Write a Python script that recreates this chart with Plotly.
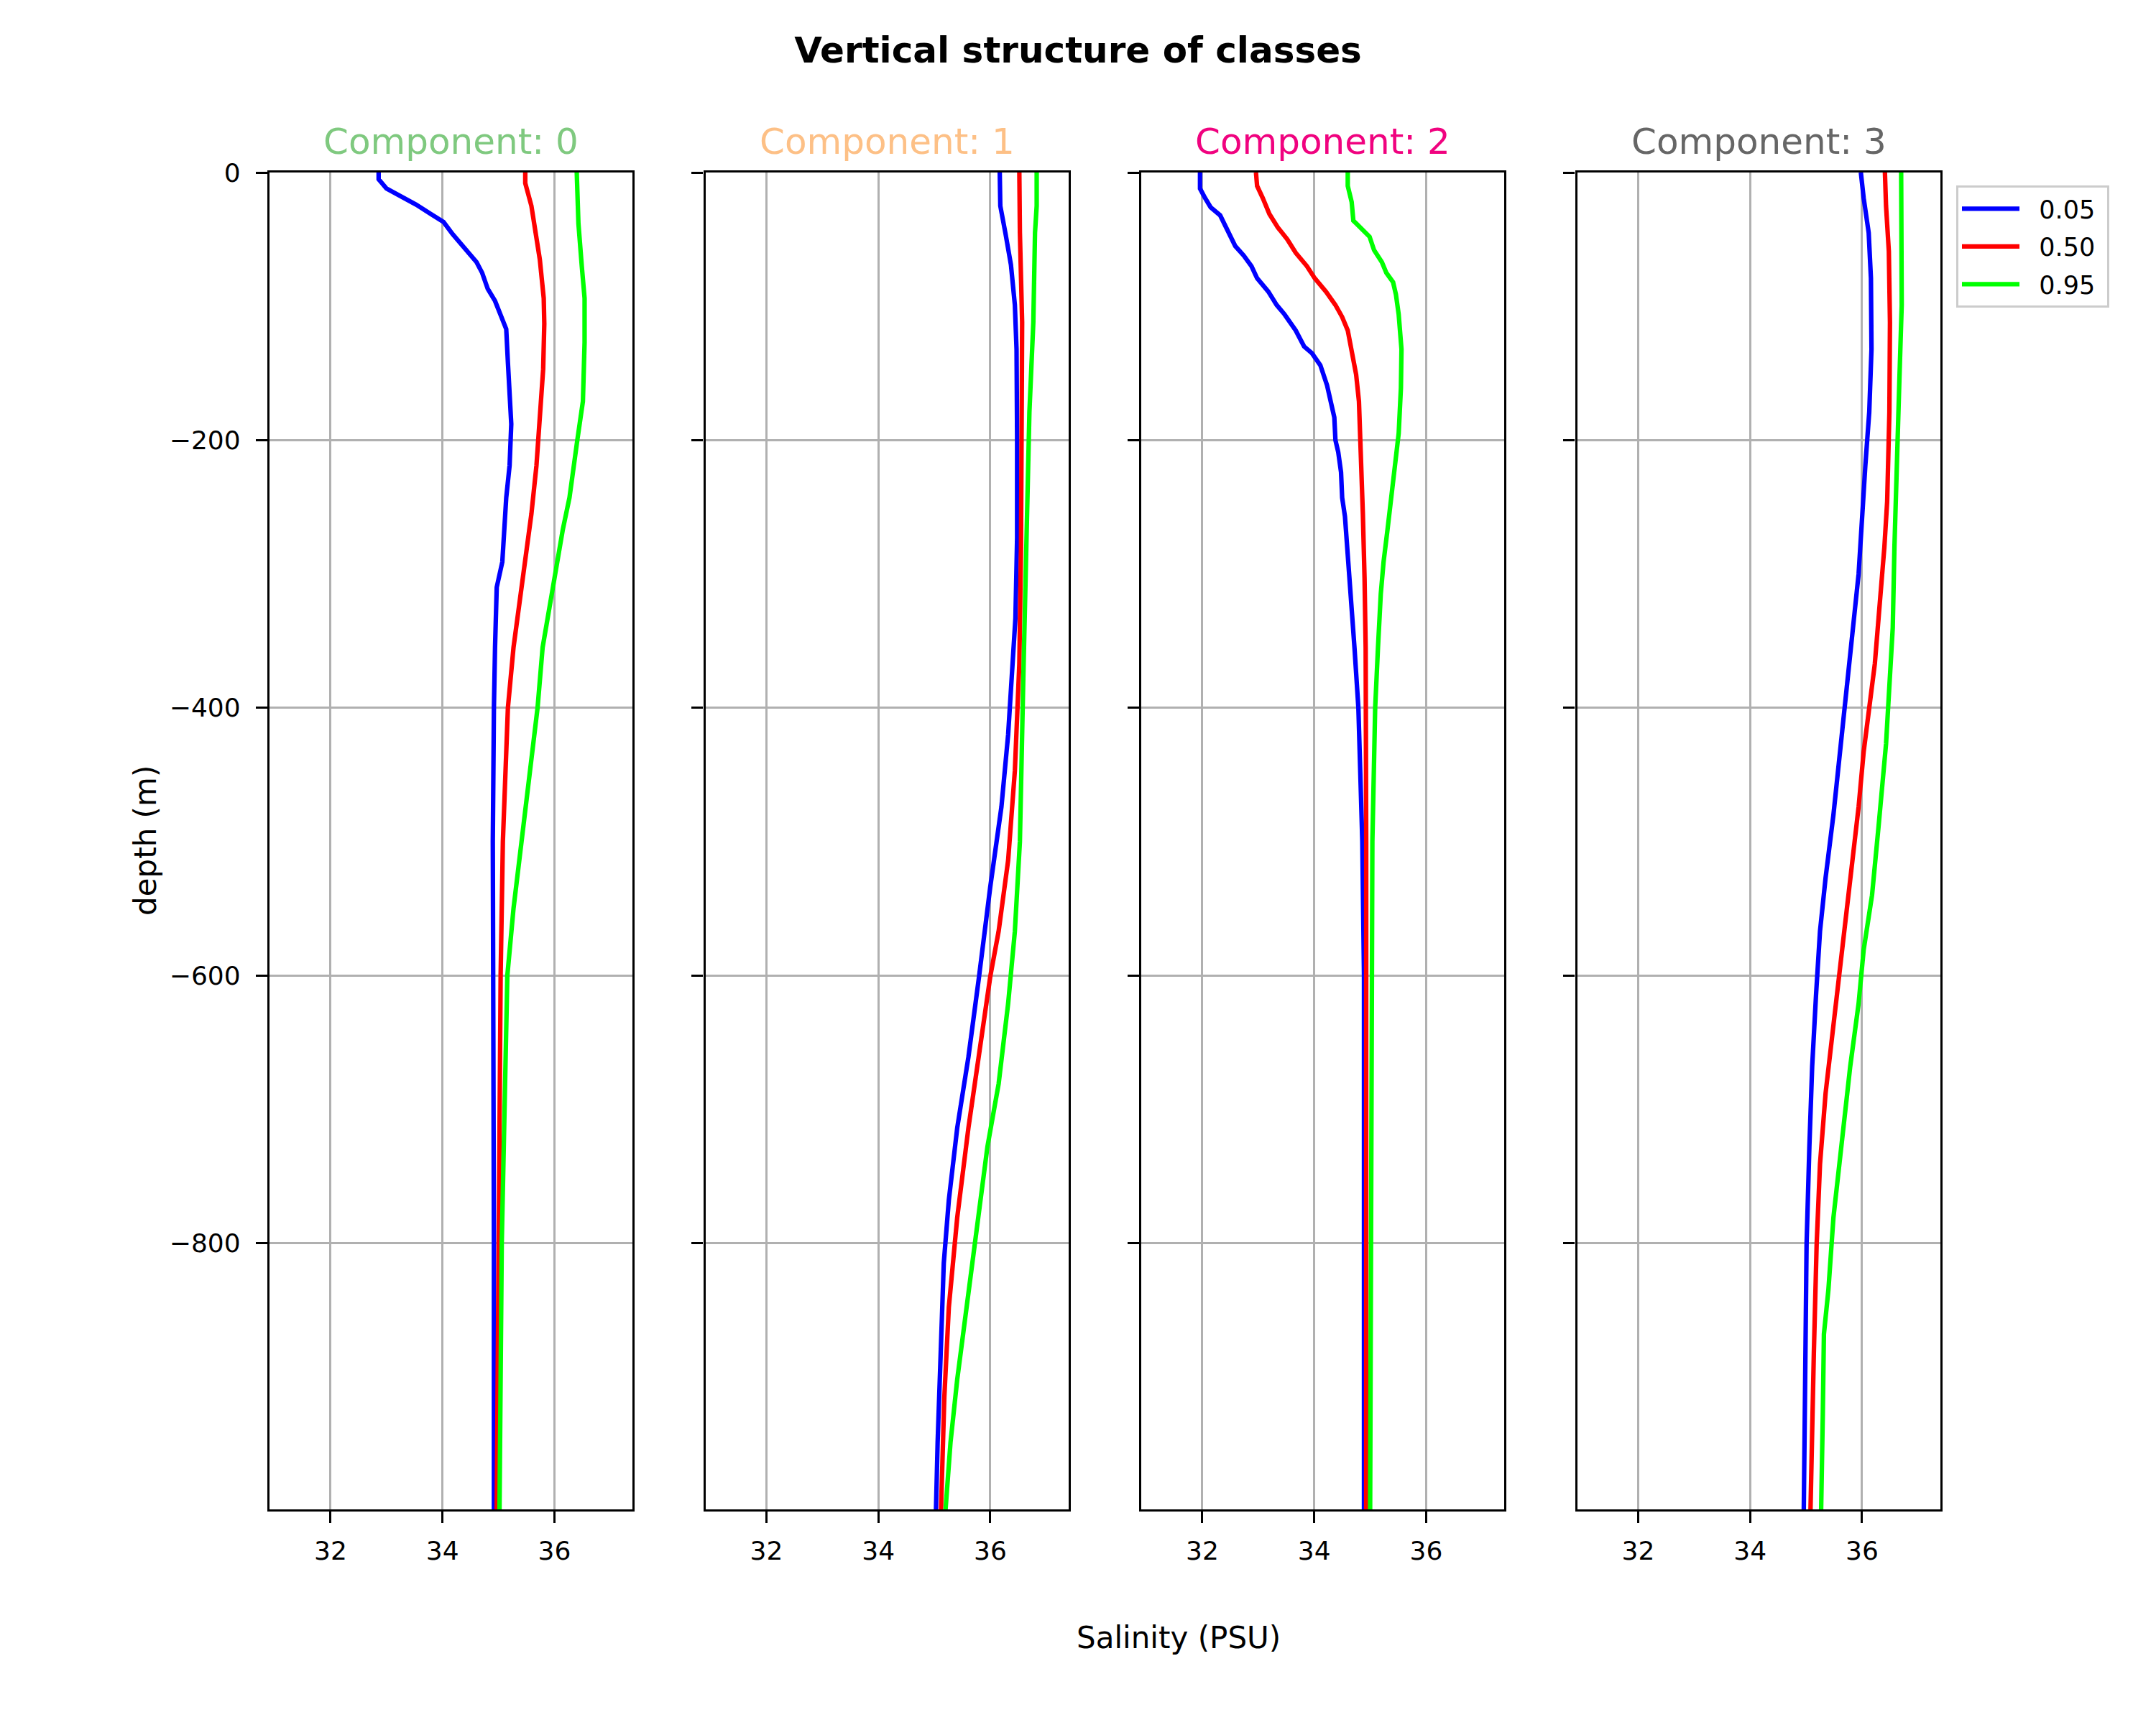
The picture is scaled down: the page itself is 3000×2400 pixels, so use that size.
import plotly.graph_objects as go

# ---------------- data ----------------
quantile_labels = ["0.05", "0.50", "0.95"]
component_titles = ["Component: 0", "Component: 1", "Component: 2", "Component: 3"]
title_colors = ["#7fc97f", "#fdc086", "#f0027f", "#666666"]
line_colors = ["#0000ff", "#ff0000", "#00ff00"]
x_ticks = [32, 34, 36]
y_ticks = [0, -200, -400, -600, -800]

# Component 0
c0_q05_depth = [0, -5, -12, -18, -24, -31, -37, -46, -56, -67, -75, -87, -96, -106, -117, -142, -166, -188, -219, -243, -291, -310, -355, -400, -500, -600, -700, -800, -1000]
c0_q05_sal = [32.86, 32.86, 33.0, 33.27, 33.53, 33.79, 34.02, 34.18, 34.38, 34.61, 34.71, 34.81, 34.94, 35.04, 35.14, 35.17, 35.2, 35.23, 35.2, 35.14, 35.07, 34.97, 34.94, 34.92, 34.9, 34.91, 34.92, 34.92, 34.92]
c0_q50_depth = [0, -8, -25, -42, -65, -94, -113, -147, -183, -219, -255, -291, -327, -355, -400, -450, -500, -600, -800, -1000]
c0_q50_sal = [35.48, 35.48, 35.59, 35.66, 35.74, 35.81, 35.82, 35.8, 35.74, 35.68, 35.59, 35.48, 35.36, 35.27, 35.17, 35.12, 35.08, 35.04, 35.0, 34.97]
c0_q95_depth = [0, -38, -70, -94, -127, -171, -200, -219, -243, -267, -298, -327, -355, -400, -450, -500, -550, -600, -700, -800, -1000]
c0_q95_sal = [36.4, 36.43, 36.49, 36.54, 36.54, 36.51, 36.41, 36.35, 36.27, 36.15, 36.02, 35.89, 35.79, 35.7, 35.56, 35.42, 35.27, 35.16, 35.1, 35.06, 35.02]

# Component 1
c1_q05_depth = [0, -25, -45, -69, -99, -132, -199, -273, -333, -380, -420, -474, -534, -601, -661, -714, -768, -815, -882, -949, -1000]
c1_q05_sal = [36.17, 36.18, 36.27, 36.37, 36.44, 36.47, 36.48, 36.48, 36.45, 36.39, 36.32, 36.2, 36.0, 35.8, 35.61, 35.41, 35.26, 35.17, 35.11, 35.06, 35.03]
c1_q50_depth = [0, -45, -112, -199, -280, -367, -447, -514, -567, -601, -661, -714, -781, -848, -915, -1000]
c1_q50_sal = [36.52, 36.53, 36.57, 36.57, 36.55, 36.52, 36.44, 36.32, 36.15, 36.0, 35.8, 35.61, 35.41, 35.26, 35.18, 35.12]
c1_q95_depth = [0, -25, -45, -112, -179, -280, -380, -500, -567, -621, -681, -728, -775, -835, -902, -949, -1000]
c1_q95_sal = [36.83, 36.83, 36.8, 36.77, 36.7, 36.64, 36.59, 36.53, 36.44, 36.32, 36.15, 35.95, 35.8, 35.61, 35.41, 35.29, 35.2]

# Component 2
c2_q05_depth = [0, -12, -19, -26, -32, -38, -48, -55, -62, -70, -79, -89, -99, -106, -118, -130, -135, -144, -159, -175, -183, -200, -209, -224, -243, -257, -279, -303, -327, -355, -400, -500, -600, -800, -1000]
c2_q05_sal = [31.96, 31.96, 32.05, 32.15, 32.32, 32.39, 32.49, 32.59, 32.74, 32.88, 32.98, 33.18, 33.33, 33.47, 33.67, 33.82, 33.96, 34.11, 34.23, 34.31, 34.36, 34.38, 34.43, 34.48, 34.5, 34.55, 34.59, 34.63, 34.68, 34.72, 34.79, 34.86, 34.89, 34.89, 34.89]
c2_q50_depth = [0, -10, -19, -31, -41, -50, -60, -70, -79, -89, -99, -108, -118, -135, -151, -171, -195, -219, -255, -303, -355, -500, -1000]
c2_q50_sal = [32.96, 32.98, 33.08, 33.2, 33.35, 33.52, 33.67, 33.87, 34.01, 34.21, 34.38, 34.5, 34.6, 34.67, 34.75, 34.8, 34.82, 34.86, 34.87, 34.9, 34.92, 34.93, 34.93]
c2_q95_depth = [0, -10, -22, -36, -38, -43, -48, -58, -67, -75, -82, -91, -106, -132, -161, -195, -214, -243, -267, -291, -315, -355, -400, -500, -1000]
c2_q95_sal = [34.6, 34.6, 34.67, 34.7, 34.75, 34.87, 34.99, 35.07, 35.21, 35.29, 35.41, 35.46, 35.51, 35.56, 35.55, 35.51, 35.46, 35.39, 35.31, 35.24, 35.19, 35.14, 35.09, 35.04, 35.0]

# Component 3
c3_q05_depth = [0, -19, -45, -79, -132, -179, -219, -260, -300, -340, -373, -420, -480, -527, -567, -614, -668, -728, -801, -882, -1000]
c3_q05_sal = [35.98, 36.03, 36.12, 36.16, 36.17, 36.13, 36.06, 35.99, 35.94, 35.84, 35.76, 35.64, 35.49, 35.35, 35.25, 35.18, 35.11, 35.06, 35.01, 34.99, 34.96]
c3_q50_depth = [0, -25, -59, -112, -179, -246, -280, -320, -367, -400, -433, -474, -527, -581, -634, -688, -741, -801, -882, -949, -1000]
c3_q50_sal = [36.41, 36.43, 36.48, 36.5, 36.49, 36.45, 36.4, 36.33, 36.23, 36.13, 36.03, 35.94, 35.79, 35.64, 35.49, 35.35, 35.25, 35.19, 35.14, 35.1, 35.08]
c3_q95_depth = [0, -45, -99, -153, -213, -280, -340, -380, -427, -487, -540, -581, -621, -668, -728, -781, -835, -868, -928, -1000]
c3_q95_sal = [36.7, 36.71, 36.71, 36.67, 36.62, 36.58, 36.55, 36.5, 36.43, 36.3, 36.18, 36.03, 35.94, 35.79, 35.64, 35.49, 35.4, 35.32, 35.3, 35.27]

panels = [
    [(c0_q05_sal, c0_q05_depth), (c0_q50_sal, c0_q50_depth), (c0_q95_sal, c0_q95_depth)],
    [(c1_q05_sal, c1_q05_depth), (c1_q50_sal, c1_q50_depth), (c1_q95_sal, c1_q95_depth)],
    [(c2_q05_sal, c2_q05_depth), (c2_q50_sal, c2_q50_depth), (c2_q95_sal, c2_q95_depth)],
    [(c3_q05_sal, c3_q05_depth), (c3_q50_sal, c3_q50_depth), (c3_q95_sal, c3_q95_depth)],
]

# ---------------- layout geometry ----------------
W, H = 3000, 2400
ML, MR, MT, MB = 375, 300, 240, 300
PW = W - ML - MR   # 2325
PH = H - MT - MB   # 1860
panel_w = 505.4
panel_step = 606.5
FONT = "DejaVu Sans"

fig = go.Figure()

for p, series in enumerate(panels):
    xa = "x" if p == 0 else f"x{p+1}"
    ya = "y" if p == 0 else f"y{p+1}"
    for q, (sal, dep) in enumerate(series):
        fig.add_trace(go.Scatter(
            x=sal, y=dep, mode="lines",
            line=dict(color=line_colors[q], width=6.25),
            name="\u00a0\u00a0" + quantile_labels[q] + "\u00a0",
            legendgroup=quantile_labels[q],
            showlegend=(p == 3),
            xaxis=xa, yaxis=ya,
        ))

axis_common = dict(
    showline=True, linecolor="black", linewidth=3.3, mirror=True,
    ticks="outside", ticklen=16, tickwidth=3.3, tickcolor="black",
    showgrid=True, gridcolor="#b0b0b0", gridwidth=3.3,
    zeroline=False,
    tickfont=dict(family=FONT, size=36, color="black"),
)

layout = dict(
    width=W, height=H,
    margin=dict(l=ML, r=MR, t=MT, b=MB, pad=0),
    paper_bgcolor="white", plot_bgcolor="white",
    font=dict(family=FONT, color="black"),
    title=dict(text="<b>Vertical structure of classes</b>",
               font=dict(family=FONT, size=50, color="black"),
               x=0.5, xref="container", xanchor="center",
               y=1 - 69 / H, yref="container", yanchor="middle"),
    legend=dict(x=(2722 - ML) / PW, y=(PH - (258 - MT)) / PH,
                xanchor="left", yanchor="top",
                bordercolor="#cccccc", borderwidth=3, bgcolor="white",
                font=dict(family=FONT, size=35, color="black"),
                itemwidth=80, tracegroupgap=4),
    showlegend=True,
)

annotations = []
for p in range(4):
    d0 = p * panel_step / PW
    d1 = (p * panel_step + panel_w) / PW
    sx = "" if p == 0 else str(p + 1)
    layout[f"xaxis{sx}"] = dict(
        axis_common, domain=[d0, d1], range=[30.91, 37.40],
        tickvals=x_ticks, ticktext=[str(v) for v in x_ticks],
        anchor=f"y{sx}", ticklabelstandoff=8,
    )
    ydict = dict(
        axis_common, domain=[0, 1], range=[-999, 0],
        tickvals=y_ticks,
        ticktext=[("\u2212" + str(-v)) if v < 0 else str(v) for v in y_ticks],
        anchor=f"x{sx}", showticklabels=(p == 0), ticklabelstandoff=14,
    )
    if p > 0:
        ydict["matches"] = "y"
    layout[f"yaxis{sx}"] = ydict
    annotations.append(dict(
        text=component_titles[p], xref="paper", yref="paper",
        x=(d0 + d1) / 2, y=(PH - (197 - MT)) / PH,
        xanchor="center", yanchor="middle", showarrow=False,
        font=dict(family=FONT, size=50, color=title_colors[p]),
    ))

annotations.append(dict(
    text="Salinity (PSU)", xref="paper", yref="paper",
    x=(1640 - ML) / PW, y=(PH - (2278 - MT)) / PH,
    xanchor="center", yanchor="middle", showarrow=False,
    font=dict(family=FONT, size=42, color="black"),
))
annotations.append(dict(
    text="depth (m)", xref="paper", yref="paper",
    x=(202 - ML) / PW, y=0.5, textangle=-90,
    xanchor="center", yanchor="middle", showarrow=False,
    font=dict(family=FONT, size=42, color="black"),
))
layout["annotations"] = annotations

fig.update_layout(**layout)
fig.write_html("out.html")
